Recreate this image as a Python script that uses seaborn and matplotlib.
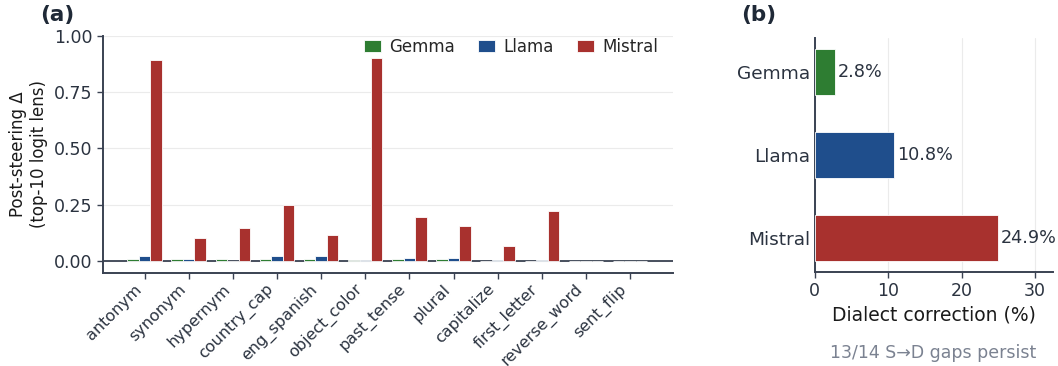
import numpy as np
import pandas as pd
import matplotlib
matplotlib.use("Agg")
import matplotlib.pyplot as plt
import seaborn as sns

# ---- data ----
tasks = ["antonym", "synonym", "hypernym", "country_cap", "eng_spanish", "object_color",
         "past_tense", "plural", "capitalize", "first_letter", "reverse_word", "sent_flip"]
models = ["Gemma", "Llama", "Mistral"]
gemma = [0.010, 0.008, 0.007, 0.010, 0.010, 0.002, 0.010, 0.007, 0.001, 0.001, 0.001, 0.001]
llama = [0.020, 0.008, 0.001, 0.020, 0.020, 0.006, 0.012, 0.012, 0.002, 0.002, 0.001, 0.001]
mistral = [0.892, 0.103, 0.148, 0.247, 0.117, 0.900, 0.197, 0.157, 0.067, 0.220, 0.001, 0.001]
dialect_models = ["Gemma", "Llama", "Mistral"]
dialect_corr = [2.8, 10.8, 24.9]
footnote = "13/14 S\u2192D gaps persist"

colors = {"Gemma": "#2e7d32", "Llama": "#1f4e8c", "Mistral": "#a8312e"}
spine_c = "#3a4252"
text_c = "#2b3340"

sns.set_style("white")
plt.rcParams["font.family"] = "sans-serif"
plt.rcParams["font.sans-serif"] = ["DejaVu Sans"]
plt.rcParams["axes.edgecolor"] = spine_c
plt.rcParams["xtick.color"] = spine_c
plt.rcParams["ytick.color"] = spine_c
plt.rcParams["xtick.labelcolor"] = text_c
plt.rcParams["ytick.labelcolor"] = text_c

fig = plt.figure(figsize=(10.58, 3.66), dpi=100)
ax1 = fig.add_axes([0.097, 0.254, 0.539, 0.648])
ax2 = fig.add_axes([0.770, 0.257, 0.225, 0.639])

# ---- panel (a) ----
df = pd.DataFrame({
    "task": tasks * 3,
    "model": ["Gemma"] * len(tasks) + ["Llama"] * len(tasks) + ["Mistral"] * len(tasks),
    "delta": gemma + llama + mistral,
})
sns.barplot(data=df, x="task", y="delta", hue="model", hue_order=models, order=tasks,
            palette=colors, saturation=1, width=0.78, edgecolor="white", linewidth=0.6,
            errorbar=None, ax=ax1, zorder=3)
ax1.axhline(0, color=spine_c, lw=1.3, zorder=2)
ax1.set_ylim(-0.054, 1.0)
ax1.set_xlim(-0.95, 11.97)
ax1.set_yticks([0, 0.25, 0.5, 0.75, 1.0])
ax1.set_yticklabels(["0.00", "0.25", "0.50", "0.75", "1.00"])
ax1.yaxis.grid(True, color="#ebebeb", lw=0.8)
ax1.set_axisbelow(True)
ax1.set_xlabel("")
ax1.set_ylabel("Post-steering \u0394\n(top-10 logit lens)", fontsize=12, color="#1a1a1a")
ax1.tick_params(axis="y", labelsize=12.5, length=4, width=1, left=True)
ax1.tick_params(axis="x", length=4, width=1, bottom=True, pad=2)
plt.setp(ax1.get_xticklabels(), rotation=45, ha="right", fontsize=11.5)
for s in ["top", "right"]:
    ax1.spines[s].set_visible(False)
for s in ["left", "bottom"]:
    ax1.spines[s].set_linewidth(1.4)
handles, labels = ax1.get_legend_handles_labels()
ax1.legend(handles, labels, loc="upper right", bbox_to_anchor=(1.0, 1.055), ncol=3,
           frameon=False, fontsize=12, handlelength=1.0, handleheight=0.8,
           handletextpad=0.5, columnspacing=1.4)

# ---- panel (b) ----
dfb = pd.DataFrame({"model": dialect_models, "corr": dialect_corr})
sns.barplot(data=dfb, x="corr", y="model", hue="model", palette=colors, saturation=1, orient="h",
            width=0.55, edgecolor="white", linewidth=0.6, errorbar=None, legend=False,
            ax=ax2, zorder=3)
for i, v in enumerate(dialect_corr):
    ax2.text(v + 0.4, i, f"{v}%", va="center", ha="left", fontsize=12.7, color=text_c)
ax2.set_xlim(0, 32.4)
ax2.set_ylim(2.41, -0.41)
ax2.set_xticks([0, 10, 20, 30])
ax2.xaxis.grid(True, color="#ebebeb", lw=0.8)
ax2.set_axisbelow(True)
ax2.set_ylabel("")
ax2.set_xlabel("Dialect correction (%)", fontsize=13.5, color="#1a1a1a")
ax2.tick_params(axis="x", labelsize=12.5, length=4, width=1, bottom=True)
ax2.tick_params(axis="y", labelsize=13.3, length=0, left=False)
for s in ["top", "right"]:
    ax2.spines[s].set_visible(False)
for s in ["left", "bottom"]:
    ax2.spines[s].set_linewidth(1.4)

fig.text(0.054, 0.958, "(a)", fontsize=15.5, fontweight="bold", ha="center", va="center", color="#1f2937")
fig.text(0.717, 0.958, "(b)", fontsize=15.5, fontweight="bold", ha="center", va="center", color="#1f2937")
fig.text(0.882, 0.035, footnote, fontsize=12.5, ha="center", va="center", color="#7b8291")

fig.savefig("out.png", dpi=100)
